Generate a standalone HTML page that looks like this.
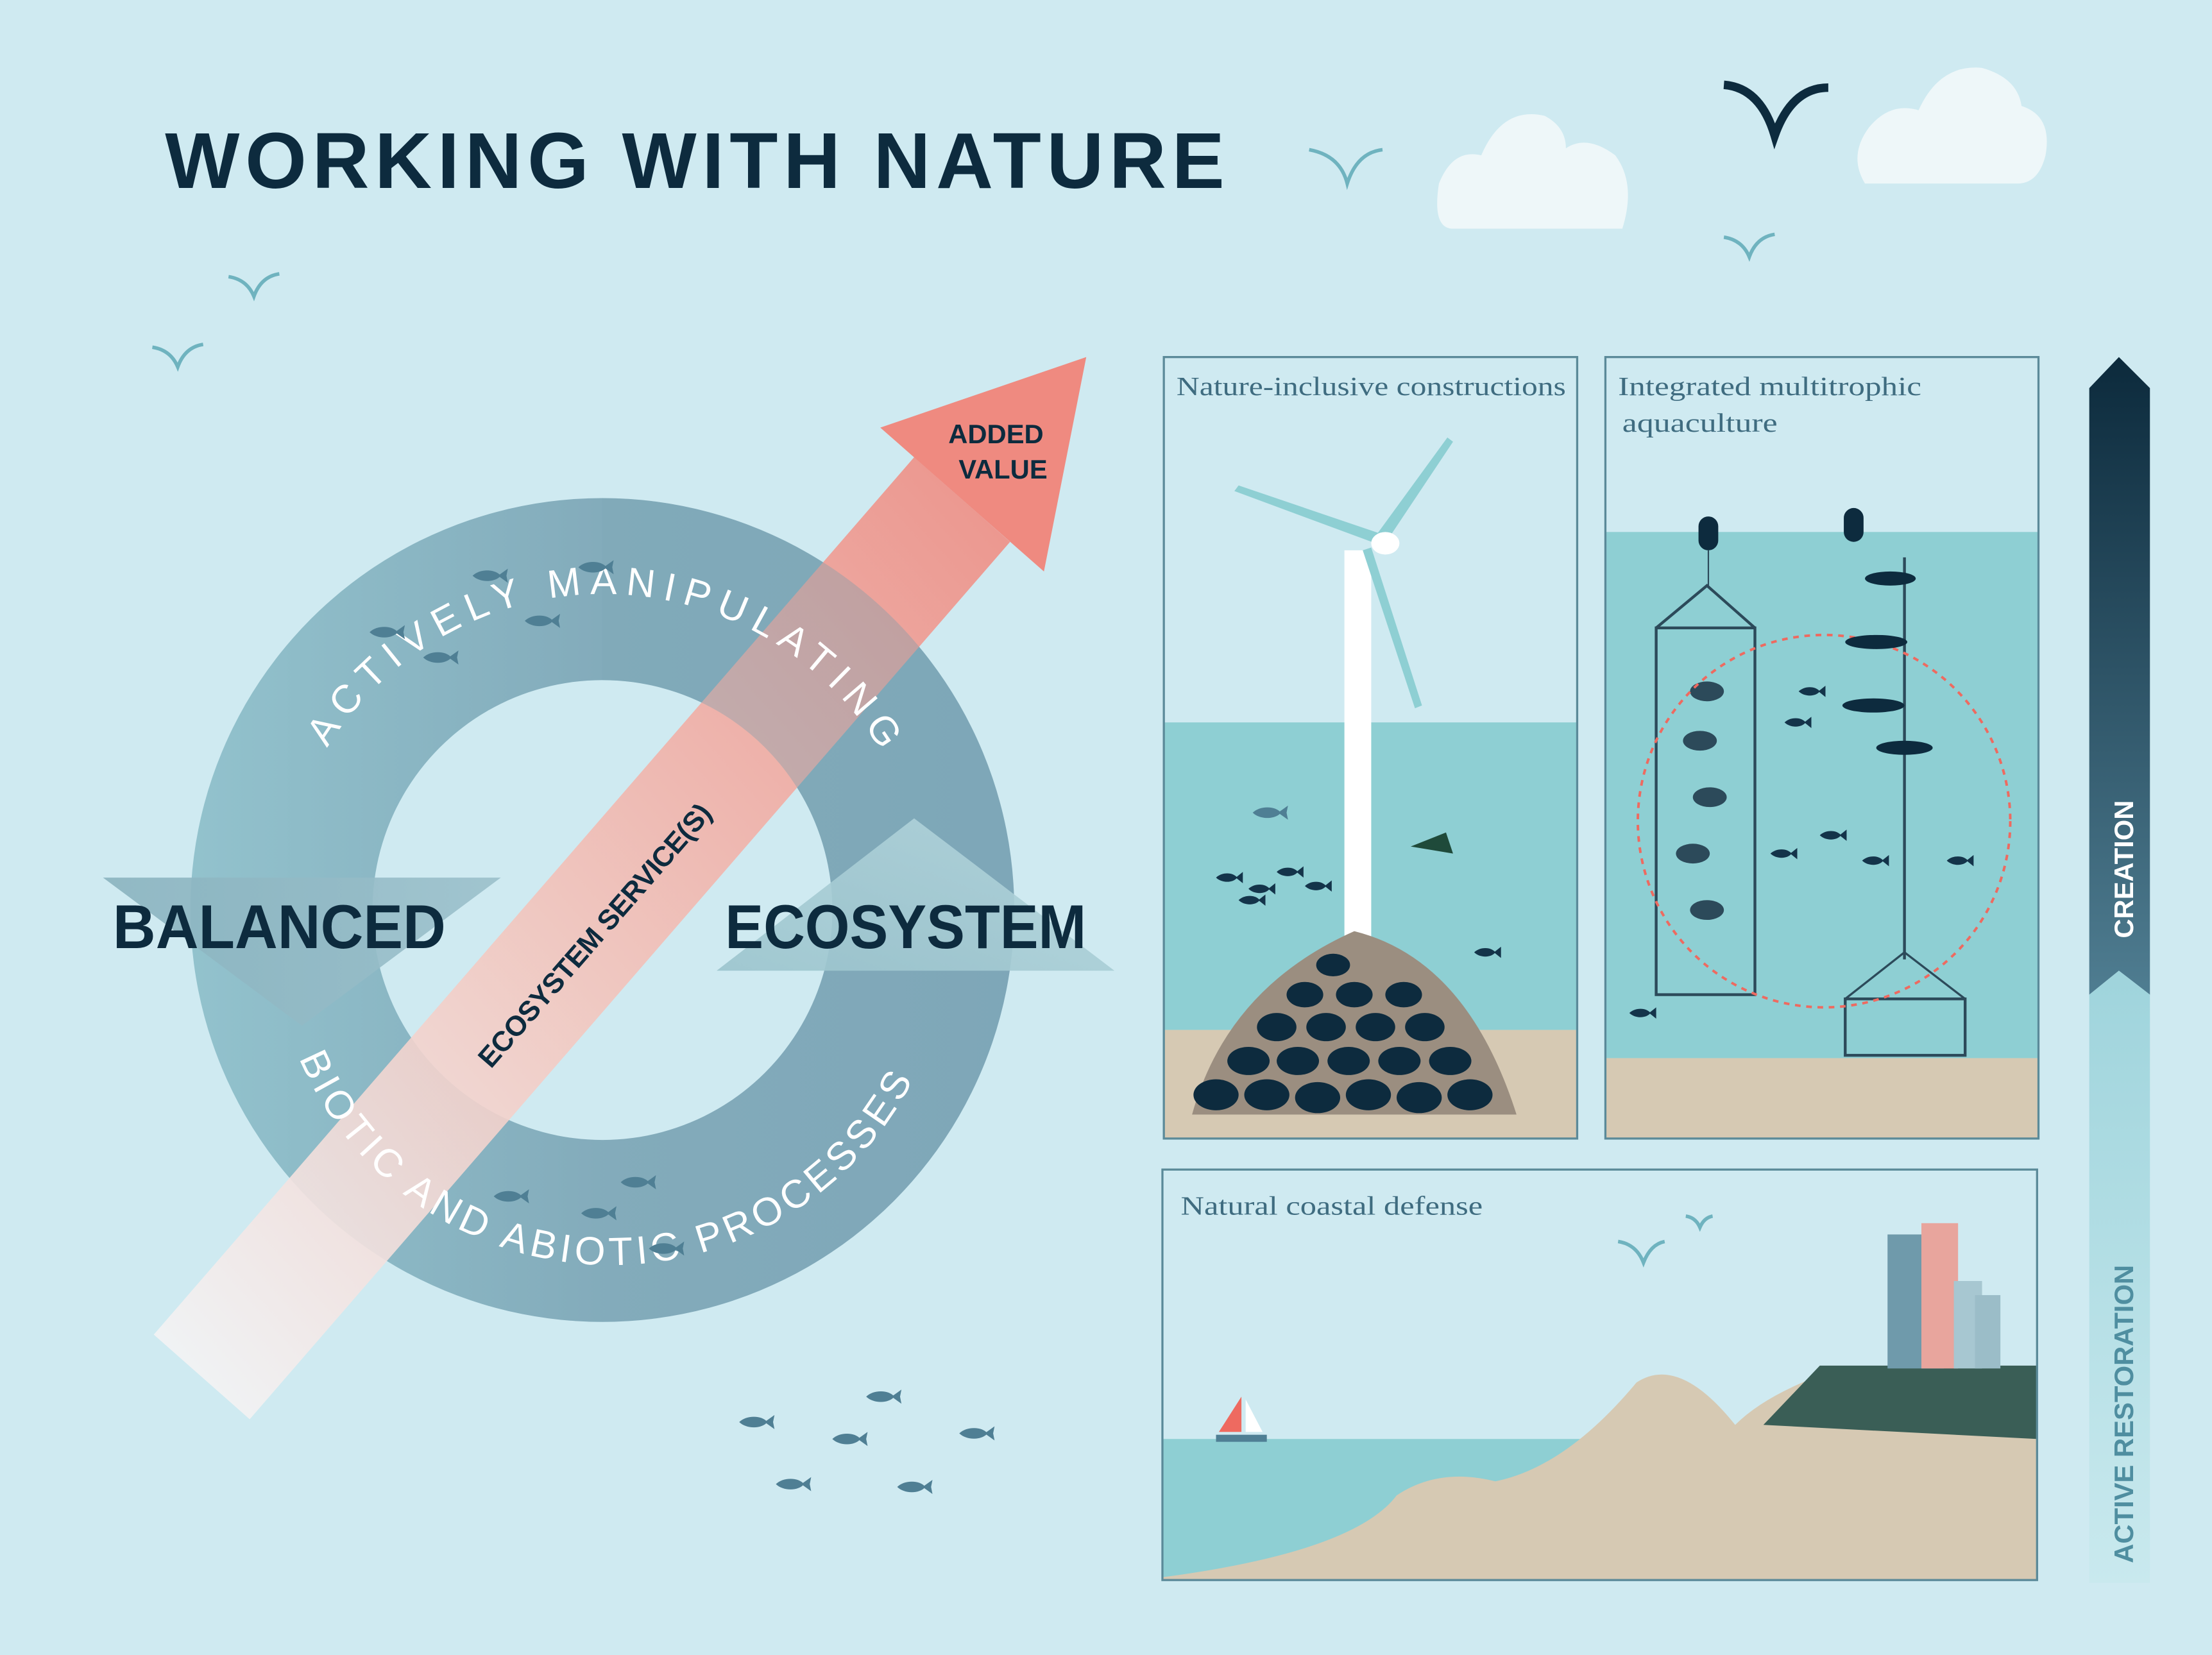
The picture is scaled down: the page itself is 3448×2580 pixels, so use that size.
<!DOCTYPE html>
<html><head><meta charset="utf-8"><style>html,body{margin:0;padding:0;background:#cfeaf1}svg{display:block}</style></head><body>
<svg width="3448" height="2580" viewBox="0 0 1568 1173" xmlns="http://www.w3.org/2000/svg" font-family="Liberation Sans, sans-serif">
<defs>
<linearGradient id="ring" x1="0" y1="0" x2="1" y2="0"><stop offset="0" stop-color="#8fc0cb"/><stop offset="0.5" stop-color="#7fa8b8"/><stop offset="1" stop-color="#7aa3b5"/></linearGradient>
<linearGradient id="arr" x1="0" y1="1" x2="1" y2="0"><stop offset="0" stop-color="#f4f8fa"/><stop offset="0.45" stop-color="#f3c8c0"/><stop offset="1" stop-color="#ef8a80"/></linearGradient>
<linearGradient id="bal" x1="0" y1="0" x2="1" y2="0"><stop offset="0" stop-color="#8ab3bf"/><stop offset="1" stop-color="#9bc0cb"/></linearGradient>
<linearGradient id="eco" x1="0" y1="1" x2="1" y2="0"><stop offset="0" stop-color="#9bc4cd"/><stop offset="1" stop-color="#b5d6dd"/></linearGradient>
<linearGradient id="cre" x1="0" y1="0" x2="0" y2="1"><stop offset="0" stop-color="#0c2a3c"/><stop offset="1" stop-color="#4f7d91"/></linearGradient>
<linearGradient id="res" x1="0" y1="0" x2="0" y2="1"><stop offset="0" stop-color="#9fd4dc"/><stop offset="1" stop-color="#c9e9ee"/></linearGradient>
<path id="topArc" d="M 232 530 A 230 230 0 0 1 620 525"/>
<path id="botArc" d="M 212 750 A 240 240 0 0 0 660 735"/>
<g id="fish"><path d="M0 0 C5 -5 16 -5 20 0 C16 5 5 5 0 0Z M18 0 L25 -5 L24 0 L25 5Z" fill="#4f7f94"/></g>
<g id="dfish"><path d="M0 0 C4 -4 12 -4 15 0 C12 4 4 4 0 0Z M14 0 L19 -4 L19 4Z" fill="#14344a"/></g>
</defs>
<rect width="1568" height="1173" fill="#cfeaf1"/>
<text x="117" y="133" font-size="56" font-weight="bold" fill="#0d2b3e" textLength="751" lengthAdjust="spacing">WORKING WITH NATURE</text>
<g fill="none" stroke="#6fb3bf" stroke-width="2.5">
<path d="M928 106 Q950 110 955 130 Q962 108 980 106"/>
<path d="M162 196 Q175 198 180 210 Q185 196 198 194"/>
<path d="M108 246 Q121 248 126 260 Q131 246 144 244"/>
<path d="M1222 168 Q1235 170 1240 182 Q1245 168 1258 166"/>
<path d="M1147 880 Q1160 882 1165 895 Q1170 882 1180 880"/>
<path d="M1195 862 Q1202 863 1205 870 Q1208 863 1214 862"/>
</g>
<path d="M1222 60 Q1248 62 1258 96 Q1270 62 1296 62" fill="none" stroke="#0d2b3e" stroke-width="6"/>
<g fill="#eef7f9">
<path d="M1030 162 Q1015 162 1020 130 Q1030 105 1050 110 Q1065 75 1095 82 Q1110 90 1110 105 Q1125 95 1145 110 Q1160 130 1150 162Z"/>
<path d="M1322 130 Q1310 110 1325 90 Q1340 72 1360 78 Q1375 45 1405 48 Q1430 55 1433 75 Q1455 82 1450 110 Q1445 130 1430 130Z"/>
</g>
<path d="M427 353 A292 292 0 1 1 426.9 353 Z M427 482 A163 163 0 1 0 427.1 482Z" fill="url(#ring)" fill-rule="evenodd" opacity="0.95"/>
<polygon points="109,946 177,1006 716,384 648,324" fill="url(#arr)" opacity="0.9"/>
<polygon points="624,303 740,405 770,253" fill="#ef8a80"/>
<text x="706" y="314" font-size="19" font-weight="bold" fill="#0d2b3e" text-anchor="middle">ADDED</text>
<text x="711" y="339" font-size="19" font-weight="bold" fill="#0d2b3e" text-anchor="middle">VALUE</text>
<text transform="translate(348,758) rotate(-49)" font-size="20" font-weight="bold" fill="#0d2b3e" textLength="240" lengthAdjust="spacing">ECOSYSTEM SERVICE(S)</text>
<path d="M427 353 A292 292 0 0 1 719 645 L590 645 A163 163 0 0 0 427 482Z" fill="#7fa8b8" opacity="0.35"/>
<text font-size="28" fill="#fff"><textPath href="#topArc" textLength="470" lengthAdjust="spacing">ACTIVELY MANIPULATING</textPath></text>
<text font-size="28" fill="#fff"><textPath href="#botArc" textLength="545" lengthAdjust="spacing">BIOTIC AND ABIOTIC PROCESSES</textPath></text>
<polygon points="73,622 355,622 214,727" fill="url(#bal)" opacity="0.9"/>
<polygon points="508,688 790,688 648,580" fill="url(#eco)" opacity="0.9"/>
<text x="80" y="672" font-size="44" font-weight="bold" fill="#0d2b3e" textLength="236" lengthAdjust="spacingAndGlyphs">BALANCED</text>
<text x="514" y="672" font-size="44" font-weight="bold" fill="#0d2b3e" textLength="256" lengthAdjust="spacingAndGlyphs">ECOSYSTEM</text>
<use href="#fish" x="335" y="408"/><use href="#fish" x="410" y="402"/><use href="#fish" x="262" y="448"/><use href="#fish" x="300" y="466"/><use href="#fish" x="372" y="440"/>
<use href="#fish" x="350" y="848"/><use href="#fish" x="440" y="838"/><use href="#fish" x="412" y="860"/><use href="#fish" x="460" y="885"/>
<use href="#fish" x="524" y="1008"/><use href="#fish" x="614" y="990"/><use href="#fish" x="590" y="1020"/><use href="#fish" x="680" y="1016"/><use href="#fish" x="550" y="1052"/><use href="#fish" x="636" y="1054"/>
<rect x="825" y="253" width="293" height="554" fill="#cfeaf1"/>
<rect x="825" y="512" width="293" height="218" fill="#8ecfd3"/>
<rect x="825" y="730" width="293" height="77" fill="#d6c9b3"/>
<rect x="953" y="390" width="19" height="275" fill="#fff"/>
<g fill="#8ecfd3"><path d="M975 385 L875 348 L878 344 L978 378Z"/><path d="M975 380 L1026 310 L1030 313 L982 385Z"/><path d="M972 388 L1008 500 L1003 502 L966 390Z"/></g>
<ellipse cx="982" cy="385" rx="10" ry="8" fill="#fff"/>
<path d="M845 790 Q870 700 960 660 Q1040 680 1075 790Z" fill="#9b8e80"/>
<g fill="#0d2b3e"><ellipse cx="862" cy="776" rx="16" ry="11"/><ellipse cx="898" cy="776" rx="16" ry="11"/><ellipse cx="934" cy="778" rx="16" ry="11"/><ellipse cx="970" cy="776" rx="16" ry="11"/><ellipse cx="1006" cy="778" rx="16" ry="11"/><ellipse cx="1042" cy="776" rx="16" ry="11"/><ellipse cx="885" cy="752" rx="15" ry="10"/><ellipse cx="920" cy="752" rx="15" ry="10"/><ellipse cx="956" cy="752" rx="15" ry="10"/><ellipse cx="992" cy="752" rx="15" ry="10"/><ellipse cx="1028" cy="752" rx="15" ry="10"/><ellipse cx="905" cy="728" rx="14" ry="10"/><ellipse cx="940" cy="728" rx="14" ry="10"/><ellipse cx="975" cy="728" rx="14" ry="10"/><ellipse cx="1010" cy="728" rx="14" ry="10"/><ellipse cx="925" cy="705" rx="13" ry="9"/><ellipse cx="960" cy="705" rx="13" ry="9"/><ellipse cx="995" cy="705" rx="13" ry="9"/><ellipse cx="945" cy="684" rx="12" ry="8"/></g>
<use href="#dfish" x="862" y="622"/><use href="#dfish" x="885" y="630"/><use href="#dfish" x="905" y="618"/><use href="#dfish" x="925" y="628"/><use href="#dfish" x="878" y="638"/><use href="#dfish" x="1045" y="675"/>
<use href="#fish" x="888" y="576"/>
<path d="M1000 600 L1025 590 L1030 605 Z" fill="#1f4a3a"/>
<rect x="825" y="253" width="293" height="554" fill="none" stroke="#5b8a99" stroke-width="1.5"/>
<text x="834" y="280" font-size="19" fill="#3f6c80" font-family="Liberation Serif, serif" textLength="276" lengthAdjust="spacingAndGlyphs">Nature-inclusive constructions</text>
<rect x="1138" y="377" width="307" height="373" fill="#8ecfd3"/>
<rect x="1138" y="750" width="307" height="57" fill="#d6c9b3"/>
<rect x="1174" y="445" width="70" height="260" fill="none" stroke="#2c4a5a" stroke-width="2"/>
<g fill="#2c4a5a"><ellipse cx="1210" cy="490" rx="12" ry="7"/><ellipse cx="1205" cy="525" rx="12" ry="7"/><ellipse cx="1212" cy="565" rx="12" ry="7"/><ellipse cx="1200" cy="605" rx="12" ry="7"/><ellipse cx="1210" cy="645" rx="12" ry="7"/></g>
<path d="M1174 445 L1210 415 L1244 445" fill="none" stroke="#2c4a5a" stroke-width="2"/>
<rect x="1204" y="366" width="14" height="24" rx="7" fill="#0d2b3e"/><rect x="1307" y="360" width="14" height="24" rx="7" fill="#0d2b3e"/>
<line x1="1211" y1="390" x2="1211" y2="415" stroke="#2c4a5a"/><line x1="1350" y1="395" x2="1350" y2="680" stroke="#2c4a5a" stroke-width="2"/>
<rect x="1308" y="708" width="85" height="40" fill="none" stroke="#2c4a5a" stroke-width="2"/>
<path d="M1308 708 L1350 675 L1393 708" fill="none" stroke="#2c4a5a" stroke-width="1.5"/>
<circle cx="1293" cy="582" r="132" fill="none" stroke="#ee6a60" stroke-width="1.8" stroke-dasharray="4 4"/>
<g fill="#0d2b3e"><ellipse cx="1340" cy="410" rx="18" ry="5"/><ellipse cx="1330" cy="455" rx="22" ry="5"/><ellipse cx="1328" cy="500" rx="22" ry="5"/><ellipse cx="1350" cy="530" rx="20" ry="5"/></g>
<use href="#dfish" x="1265" y="512"/><use href="#dfish" x="1275" y="490"/><use href="#dfish" x="1290" y="592"/><use href="#dfish" x="1320" y="610"/><use href="#dfish" x="1380" y="610"/><use href="#dfish" x="1255" y="605"/><use href="#dfish" x="1155" y="718"/>
<rect x="1138" y="253" width="307" height="554" fill="none" stroke="#5b8a99" stroke-width="1.5"/>
<text x="1147" y="280" font-size="19" fill="#3f6c80" font-family="Liberation Serif, serif" textLength="215" lengthAdjust="spacingAndGlyphs">Integrated multitrophic</text>
<text x="1150" y="306" font-size="19" fill="#3f6c80" font-family="Liberation Serif, serif" textLength="110" lengthAdjust="spacingAndGlyphs">aquaculture</text>
<rect x="824" y="1020" width="620" height="100" fill="#8ecfd3"/>
<path d="M824 1118 Q960 1100 990 1060 Q1020 1040 1060 1050 Q1110 1040 1160 980 Q1190 960 1230 1010 Q1250 990 1290 975 L1444 975 L1444 1120 L824 1120Z" fill="#d6c9b3"/>
<path d="M1250 1010 L1290 968 L1444 968 L1444 1020 Z" fill="#3a5e56"/>
<rect x="1338" y="875" width="40" height="95" fill="#6f9aab"/><rect x="1362" y="867" width="26" height="103" fill="#e8a59d"/><rect x="1385" y="908" width="20" height="62" fill="#a7c7d1"/><rect x="1400" y="918" width="18" height="52" fill="#9bbdc8"/>
<polygon points="880,990 880,1015 864,1015" fill="#ee6a60"/><polygon points="883,992 883,1015 895,1015" fill="#fff"/><rect x="862" y="1017" width="36" height="5" fill="#4f7f94"/>
<rect x="824" y="829" width="620" height="291" fill="none" stroke="#5b8a99" stroke-width="1.5"/>
<text x="837" y="861" font-size="19" fill="#3f6c80" font-family="Liberation Serif, serif" textLength="214" lengthAdjust="spacingAndGlyphs">Natural coastal defense</text>
<path d="M1481 275 L1502 253 L1524 275 L1524 705 L1502 688 L1481 705Z" fill="url(#cre)"/>
<path d="M1481 705 L1502 688 L1524 705 L1524 1122 L1481 1122Z" fill="url(#res)"/>
<text transform="translate(1512,665) rotate(-90)" font-size="19" font-weight="bold" fill="#fff">CREATION</text>
<text transform="translate(1512,1108) rotate(-90)" font-size="19" font-weight="bold" fill="#4f8ea0">ACTIVE RESTORATION</text>
</svg>
</body></html>
